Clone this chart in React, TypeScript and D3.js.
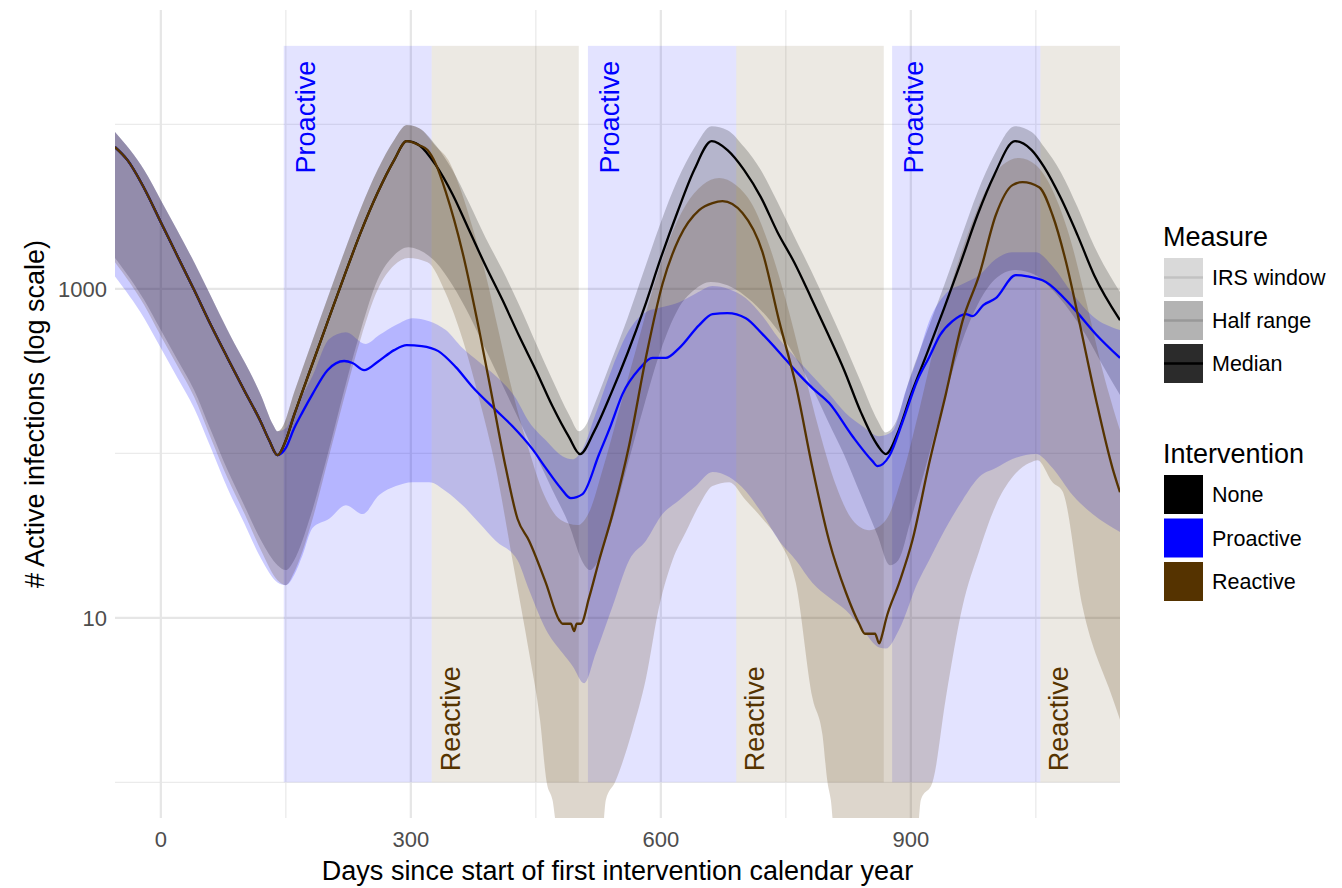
import * as d3 from 'd3';

type Pt = [number, number];

// IRS windows (days)
const proactiveWindows: Pt[] = [[147.5, 325], [512.5, 690.5], [877.5, 1055.5]];
const reactiveWindows: Pt[] = [[325, 501.5], [690.5, 867.5], [1055.5, 1232]];
const windowTop = 30000;

// shared part before the interventions diverge
const sharedMedian: Pt[] = [[-55, 7270], [-40, 6060], [-20, 4090], [0, 2540], [20, 1580], [40, 982], [60, 602], [80, 380], [100, 242], [120, 155], [130, 120], [140, 97.5]];
const sharedUpper: Pt[] = [[-55, 8970], [-20, 5270], [0, 3460], [40, 1450], [80, 561], [120, 226], [135, 148], [140, 136]];

const noneMedianTail: Pt[] = [[150, 120], [160, 171], [180, 329], [200, 627], [220, 1190], [240, 2210], [260, 3820], [280, 6060], [295, 7900], [310, 7470], [330, 5650], [350, 3760], [370, 2270], [390, 1370], [410, 854], [430, 516], [450, 320], [470, 193], [490, 125], [503, 99], [520, 136], [540, 229], [560, 406], [580, 763], [600, 1540], [620, 2930], [640, 5270], [661, 7900], [680, 6970], [700, 5270], [720, 3610], [740, 2210], [760, 1450], [780, 890], [800, 538], [820, 320], [840, 178], [860, 112], [870, 99], [885, 136], [900, 226], [920, 412], [940, 763], [960, 1450], [980, 2810], [1000, 4910], [1025, 7900], [1045, 6970], [1060, 5490], [1080, 3560], [1100, 2120], [1120, 1210], [1151, 645]];
const noneUpperTail: Pt[] = [[145, 142], [160, 235], [180, 455], [200, 877], [220, 1670], [240, 3090], [260, 5270], [280, 8020], [295, 9890], [310, 9480], [330, 7470], [350, 5270], [370, 3320], [390, 2030], [410, 1300], [430, 796], [450, 468], [470, 279], [490, 171], [502, 136], [510, 148], [520, 196], [540, 359], [560, 663], [580, 1300], [600, 2540], [620, 4580], [640, 7170], [661, 9750], [680, 9220], [700, 7270], [720, 5270], [740, 3370], [760, 2090], [780, 1300], [800, 785], [820, 468], [840, 271], [860, 159], [870, 134], [880, 148], [900, 299], [920, 561], [940, 1050], [960, 2030], [980, 3870], [1000, 6500], [1025, 9750], [1045, 8970], [1060, 7270], [1080, 5120], [1100, 3140], [1120, 1820], [1151, 955]];
const noneLower: Pt[] = [[-55, 1540], [-20, 854], [0, 561], [20, 369], [40, 242], [60, 138], [80, 79.1], [100, 48.4], [120, 29.7], [140, 20.9], [150, 19.5], [160, 22.4], [180, 42.1], [200, 97.5], [220, 242], [240, 561], [260, 1130], [280, 1600], [297, 1790], [310, 1720], [330, 1450], [350, 1050], [370, 692], [390, 424], [410, 260], [430, 159], [450, 97.5], [470, 59.7], [490, 36.6], [505, 22.4], [515, 19.5], [525, 22.4], [540, 36.6], [560, 84.8], [580, 196], [600, 424], [620, 742], [640, 982], [660, 1100], [680, 1050], [700, 915], [720, 742], [740, 561], [760, 395], [780, 260], [800, 159], [820, 97.5], [840, 55.7], [860, 31.8], [875, 20.9], [885, 22.4], [900, 39.3], [920, 90.9], [940, 211], [960, 455], [980, 796], [1000, 1130], [1025, 1300], [1050, 1210], [1070, 982], [1090, 742], [1110, 523], [1130, 344], [1151, 226]];

const proMedianTail: Pt[] = [[150, 108], [160, 142], [170, 178], [182, 229], [200, 320], [220, 364], [230, 354], [244, 320], [260, 359], [280, 424], [295, 455], [313, 449], [333, 418], [354, 334], [374, 253], [402, 183], [422, 146], [446, 106], [462, 81.3], [480, 61.4], [492, 53.4], [506, 56.5], [526, 99], [540, 148], [554, 229], [574, 325], [590, 380], [606, 380], [622, 436], [646, 602], [662, 702], [680, 712], [702, 663], [722, 530], [742, 412], [762, 316], [782, 249], [802, 202], [830, 127], [854, 89.6], [860, 83.6], [874, 96], [890, 155], [908, 279], [922, 384], [935, 523], [950, 636], [966, 702], [974, 683], [987, 796], [1002, 877], [1026, 1210], [1040, 1190], [1062, 1100], [1094, 774], [1122, 530], [1151, 380]];
const proUpperTail: Pt[] = [[150, 142], [160, 183], [170, 226], [182, 295], [202, 495], [222, 545], [246, 462], [262, 523], [282, 602], [302, 663], [322, 636], [342, 561], [362, 436], [382, 359], [402, 295], [425, 220], [442, 155], [462, 120], [482, 96], [494, 92], [506, 106], [522, 175], [542, 334], [562, 561], [582, 721], [602, 774], [622, 830], [642, 937], [662, 1040], [682, 995], [702, 877], [722, 683], [742, 495], [762, 380], [782, 295], [802, 229], [822, 175], [842, 146], [862, 127], [878, 136], [894, 242], [908, 380], [922, 636], [942, 937], [962, 1070], [982, 1210], [1002, 1520], [1022, 1670], [1050, 1670], [1070, 1370], [1094, 937], [1118, 683], [1151, 561]];
const proLower: Pt[] = [[-55, 1190], [-20, 663], [0, 436], [20, 287], [40, 188], [60, 108], [80, 61.4], [100, 37.7], [120, 23], [140, 16.4], [150, 15.8], [160, 18.2], [170, 24], [182, 35.1], [202, 40], [222, 48.4], [242, 42.7], [262, 55.7], [282, 63.2], [302, 66.8], [322, 66.8], [342, 58.9], [362, 48.4], [382, 37.7], [402, 29.3], [428, 22.4], [442, 14.7], [462, 8.5], [482, 6.1], [494, 5.1], [508, 4], [522, 6.1], [542, 11.7], [562, 22.4], [582, 29.3], [602, 42.7], [622, 51.9], [642, 63.2], [662, 76.9], [682, 71.7], [702, 58.9], [722, 42.7], [742, 29.3], [762, 22.4], [782, 16.3], [802, 13.3], [822, 11.1], [842, 8.5], [862, 6.6], [870, 6.5], [886, 8.5], [908, 16.3], [922, 22.4], [942, 35.1], [962, 51.9], [982, 71.7], [1002, 81.3], [1022, 92.2], [1050, 99], [1070, 81.3], [1094, 55.7], [1118, 42.7], [1151, 33.2]];

const reaMedianTail: Pt[] = [[320, 6970], [330, 5730], [342, 3870], [362, 1670], [382, 561], [398, 214], [414, 81.3], [428, 40], [442, 29.3], [462, 16.3], [478, 9.7], [482, 9.2], [492, 9.2], [496, 8.3], [499, 9.2], [504, 9.2], [514, 13.3], [526, 22.4], [542, 42.7], [562, 112], [582, 380], [602, 1070], [622, 2030], [646, 3010], [662, 3320], [674, 3410], [698, 2890], [722, 1670], [742, 636], [762, 260], [782, 81.3], [802, 29.3], [822, 14.3], [838, 9.2], [845, 8], [857, 8], [862, 7], [866, 8], [870, 9.7], [886, 16.3], [902, 29.7], [922, 87], [942, 229], [962, 636], [982, 1210], [1002, 2810], [1022, 4270], [1034, 4450], [1054, 4150], [1070, 2810], [1086, 1470], [1102, 636], [1122, 214], [1142, 81.3], [1151, 58]];
const reaUpperTail: Pt[] = [[330, 7370], [345, 6060], [360, 3980], [375, 2270], [390, 1210], [405, 561], [420, 260], [440, 112], [460, 55.7], [480, 39.3], [500, 36.6], [515, 45.1], [530, 79.1], [550, 183], [570, 424], [590, 982], [610, 1980], [630, 3230], [650, 4270], [670, 4710], [690, 4270], [710, 3230], [730, 1840], [750, 854], [770, 344], [790, 138], [810, 64.1], [830, 39.3], [850, 34.1], [870, 39.3], [890, 73.7], [910, 183], [930, 488], [950, 1130], [970, 2270], [990, 3980], [1010, 5650], [1030, 6240], [1050, 5650], [1070, 3980], [1090, 2120], [1110, 854], [1130, 320], [1151, 138]];
const reaLower: Pt[] = [[-55, 1450], [-20, 796], [0, 516], [20, 339], [40, 220], [60, 124], [80, 70.7], [100, 43.3], [120, 25.8], [140, 16.9], [150, 15.8], [160, 18.9], [180, 36.6], [200, 88.4], [220, 217], [240, 501], [260, 982], [280, 1390], [297, 1540], [320, 1450], [342, 937], [362, 495], [382, 214], [402, 81.3], [422, 22.4], [442, 6.1], [455, 2.4], [463, 1], [470, 0.78], [476, 0], [530, 0], [534, 0.78], [545, 1], [566, 2.08], [582, 4.24], [598, 11.7], [614, 22.4], [630, 33.2], [646, 48.4], [662, 63.2], [682, 66.8], [702, 51.9], [722, 40], [742, 29.3], [762, 16.3], [782, 3.25], [794, 1.94], [800, 1], [804, 0.78], [808, 0], [908, 0], [912, 0.78], [926, 1], [942, 3.25], [962, 11.7], [982, 25.4], [1002, 48.4], [1022, 71.7], [1042, 87.2], [1052, 90.9], [1070, 66.8], [1082, 58.9], [1106, 11.7], [1142, 3.25], [1151, 2.4]];

const xMajor = [0, 300, 600, 900];
const xMinor = [150, 450, 750, 1050];
const yMajor = [10, 1000];
const yMinor = [1, 100, 10000];

const measureLabels = ['IRS window', 'Half range', 'Median'];
const interventionLabels = ['None', 'Proactive', 'Reactive'];
const colors: Record<string, string> = { None: '#000000', Proactive: '#0000ff', Reactive: '#553300' };

const FONT = '"Liberation Sans", Arial, Helvetica, sans-serif';

export default function App() {
    const left = 115, right = 1120, top = 10, bottom = 818;

    const x = d3.scaleLinear().domain([-55, 1151]).range([left, right]);
    const y = d3.scaleLog().domain([10 ** -0.217, 10 ** 4.695]).range([bottom, top]);
    const yv = (v: number) => (v > 0 ? y(v) : bottom + 12);

    const line = d3.line<Pt>().x(d => x(d[0])).y(d => yv(d[1])).curve(d3.curveMonotoneX);
    const ribbon = (up: Pt[], lo: Pt[]) =>
        (line(up) ?? '') + (line([...lo].reverse()) ?? '').replace(/^M/, 'L') + 'Z';

    const upTo = (arr: Pt[], day: number) => arr.filter(d => d[0] <= day);

    const series = [
        { name: 'None', median: [...sharedMedian, ...noneMedianTail], upper: [...sharedUpper, ...noneUpperTail], lower: noneLower },
        { name: 'Proactive', median: [...sharedMedian, ...proMedianTail], upper: [...sharedUpper, ...proUpperTail], lower: proLower },
        { name: 'Reactive', median: [...sharedMedian, ...upTo(noneMedianTail, 310), ...reaMedianTail], upper: [...sharedUpper, ...upTo(noneUpperTail, 310), ...reaUpperTail], lower: reaLower },
    ];

    const windows = [
        ...proactiveWindows.map(w => ({ w, name: 'Proactive' })),
        ...reactiveWindows.map(w => ({ w, name: 'Reactive' })),
    ];

    return (
        <div style={{ position: 'absolute', left: 0, top: 0 }}>
            <svg width={1342} height={888} style={{ display: 'block', background: '#fff' }} fontFamily={FONT}>
                <defs>
                    <clipPath id="panel">
                        <rect x={left} y={top} width={right - left} height={bottom - top} />
                    </clipPath>
                </defs>

                {/* grid */}
                {xMinor.map(d => <line key={'xm' + d} x1={x(d)} x2={x(d)} y1={top} y2={bottom} stroke="#ebebeb" strokeWidth={1.3} />)}
                {yMinor.map(d => <line key={'ym' + d} x1={left} x2={right} y1={y(d)} y2={y(d)} stroke="#ebebeb" strokeWidth={1.3} />)}
                {xMajor.map(d => <line key={'xM' + d} x1={x(d)} x2={x(d)} y1={top} y2={bottom} stroke="#e6e6e6" strokeWidth={2.2} />)}
                {yMajor.map(d => <line key={'yM' + d} x1={left} x2={right} y1={y(d)} y2={y(d)} stroke="#e6e6e6" strokeWidth={2.2} />)}

                <g clipPath="url(#panel)">
                    {windows.map((d, i) => (
                        <rect key={'w' + i} x={x(d.w[0])} y={y(windowTop)} width={x(d.w[1]) - x(d.w[0])} height={y(1) - y(windowTop)}
                            fill={colors[d.name]} fillOpacity={0.11} />
                    ))}
                    {series.map(s => (
                        <path key={'r' + s.name} d={ribbon(s.upper, s.lower)} fill={colors[s.name]} fillOpacity={0.2} />
                    ))}
                    {series.map(s => (
                        <path key={'l' + s.name} d={line(s.median) ?? ''} fill="none" stroke={colors[s.name]} strokeWidth={2.3} strokeLinejoin="round" />
                    ))}
                </g>

                {/* window labels */}
                {proactiveWindows.map((w, i) => (
                    <text key={'pl' + i} transform={`translate(${x(w[0]) + 31},${y(windowTop) + 15}) rotate(-90)`}
                        textAnchor="end" fontSize={27} fill={colors.Proactive}>Proactive</text>
                ))}
                {reactiveWindows.map((w, i) => (
                    <text key={'rl' + i} transform={`translate(${x(w[0]) + 28},${y(1) - 11}) rotate(-90)`}
                        textAnchor="start" fontSize={27} fill={colors.Reactive}>Reactive</text>
                ))}

                {/* axes */}
                {xMajor.map(d => (
                    <text key={'xt' + d} x={x(d)} y={847} textAnchor="middle" fontSize={22} fill="#4d4d4d">{d}</text>
                ))}
                {yMajor.map(d => (
                    <text key={'yt' + d} x={107} y={y(d)} dy="0.36em" textAnchor="end" fontSize={22} fill="#4d4d4d">{d}</text>
                ))}
                <text x={(left + right) / 2} y={880} textAnchor="middle" fontSize={27} fill="#000">
                    Days since start of first intervention calendar year
                </text>
                <text transform={`translate(44,${(top + bottom) / 2}) rotate(-90)`} textAnchor="middle" fontSize={27} fill="#000">
                    # Active infections (log scale)
                </text>

                {/* legend: measure */}
                <text x={1163} y={246} fontSize={27}>Measure</text>
                {measureLabels.map((m, i) => {
                    const ky = 258 + i * 43;
                    const fill = ['#d9d9d9', '#b3b3b3', '#2b2b2b'][i];
                    const stroke = ['#c2c2c2', '#999999', '#000000'][i];
                    return (
                        <g key={m}>
                            <rect x={1164} y={ky} width={39} height={39} fill={fill} />
                            <line x1={1164} x2={1203} y1={ky + 19.5} y2={ky + 19.5} stroke={stroke} strokeWidth={2.3} />
                            <text x={1212} y={ky + 27} fontSize={21.5}>{m}</text>
                        </g>
                    );
                })}

                {/* legend: intervention */}
                <text x={1163} y={463} fontSize={27}>Intervention</text>
                {interventionLabels.map((m, i) => {
                    const ky = 475 + i * 43.5;
                    return (
                        <g key={m}>
                            <rect x={1164} y={ky} width={39} height={39} fill={colors[m]} />
                            <text x={1212} y={ky + 27} fontSize={21.5}>{m}</text>
                        </g>
                    );
                })}
            </svg>
        </div>
    );
}
